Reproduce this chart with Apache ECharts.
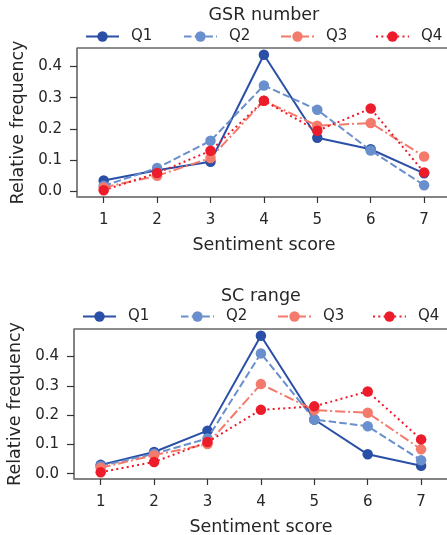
<!DOCTYPE html>
<html>
<head>
<meta charset="utf-8">
<script src="https://cdn.jsdelivr.net/npm/echarts@6/dist/echarts.min.js"></script>
<style>
html,body{margin:0;padding:0;background:#fff;}
#c{width:447px;height:535px;}
</style>
</head>
<body>
<div id="c"></div>
<script>
// ---- data ----
var scores = [1, 2, 3, 4, 5, 6, 7];
var quartiles = ['Q1', 'Q2', 'Q3', 'Q4'];
var yTicks = [0.0, 0.1, 0.2, 0.3, 0.4];
var titles = ['GSR number', 'SC range'];

var gsrQ1 = [0.035, 0.068, 0.095, 0.437, 0.172, 0.135, 0.058];
var gsrQ2 = [0.018, 0.075, 0.162, 0.339, 0.261, 0.131, 0.020];
var gsrQ3 = [0.013, 0.050, 0.107, 0.290, 0.210, 0.219, 0.112];
var gsrQ4 = [0.004, 0.059, 0.130, 0.290, 0.194, 0.265, 0.061];

var scQ1 = [0.030, 0.074, 0.147, 0.471, 0.185, 0.066, 0.027];
var scQ2 = [0.026, 0.068, 0.120, 0.411, 0.185, 0.162, 0.046];
var scQ3 = [0.020, 0.063, 0.101, 0.306, 0.217, 0.208, 0.083];
var scQ4 = [0.005, 0.040, 0.108, 0.218, 0.230, 0.281, 0.117];

// ---- styles ----
var colors = ['#2a4fa6', '#6a8fcd', '#f47a6c', '#ec1c2a'];
var dashes = ['solid', [7.5, 3.2], [10, 3, 2, 3], [2, 3.3]];
var TXT = '#262626';
var FONT = 'DejaVu Sans';

var panels = [
  {vals: [gsrQ1, gsrQ2, gsrQ3, gsrQ4], top: 48, height: 149, left: 77, title: titles[0], titleTop: 6, legendTop: 29, legendLefts: [85, 183, 280, 375]},
  {vals: [scQ1, scQ2, scQ3, scQ4], top: 329, height: 150, left: 74, title: titles[1], titleTop: 287, legendTop: 309, legendLefts: [82, 180, 277, 372]}
];
var unitW = 53.4;

var option = {
  animation: false,
  backgroundColor: '#fff',
  textStyle: {fontFamily: FONT, color: TXT},
  title: [], legend: [], grid: [], xAxis: [], yAxis: [], series: []
};

panels.forEach(function (p, pi) {
  var all = [].concat.apply([], p.vals);
  var lo = Math.min.apply(null, all), hi = Math.max.apply(null, all);
  var m = (hi - lo) * 0.05;
  option.grid.push({left: p.left, top: p.top, width: unitW * 7, height: p.height,
    outerBoundsMode: 'none', containLabel: false,
    show: true, borderColor: '#1a1a1a', borderWidth: 1, backgroundColor: 'transparent'});
  option.title.push({text: p.title, left: p.left + unitW * 3.5, top: p.titleTop, textAlign: 'center', padding: 0,
    textStyle: {fontFamily: FONT, fontSize: 17.5, fontWeight: 'normal', color: TXT}});
  option.xAxis.push({
    type: 'value', gridIndex: pi, min: 0.5, max: 7.5,
    name: 'Sentiment score', nameLocation: 'middle', nameGap: 39,
    nameTextStyle: {fontFamily: FONT, fontSize: 17.5, color: TXT},
    axisLine: {onZero: false, lineStyle: {color: '#808080', width: 1.5}},
    axisTick: {show: true, length: 6, customValues: scores, lineStyle: {color: '#333', width: 1.2}},
    axisLabel: {customValues: scores, margin: 16, fontFamily: FONT, fontSize: 15, color: TXT},
    splitLine: {show: false}
  });
  option.yAxis.push({
    type: 'value', gridIndex: pi, min: lo - m, max: hi + m,
    name: 'Relative frequency', nameLocation: 'middle', nameGap: 49, nameRotate: 90,
    nameTextStyle: {fontFamily: FONT, fontSize: 17.5, color: TXT},
    axisLine: {show: true, onZero: false, lineStyle: {color: '#808080', width: 1.5}},
    axisTick: {show: true, length: 7, customValues: yTicks, lineStyle: {color: '#333', width: 1.2}},
    axisLabel: {customValues: yTicks, margin: 15, fontFamily: FONT, fontSize: 15, color: TXT,
      formatter: function (v) { return v.toFixed(1); }},
    splitLine: {show: false}
  });
  quartiles.forEach(function (q, qi) {
    option.series.push({
      name: q, type: 'line', xAxisIndex: pi, yAxisIndex: pi,
      data: scores.map(function (s, i) { return [s, p.vals[qi][i]]; }),
      symbol: 'circle', symbolSize: 10.5, showSymbol: true,
      lineStyle: {color: colors[qi], width: 2, type: dashes[qi]},
      itemStyle: {color: colors[qi]},
      z: 2 + qi
    });
    option.legend.push({
      data: [q], left: p.legendLefts[qi], top: p.legendTop, padding: 0,
      itemWidth: 33, itemHeight: 13, selectedMode: false,
      textStyle: {fontFamily: FONT, fontSize: 15, color: TXT, padding: [0, 0, 0, 7]}
    });
  });
});

var chart = echarts.init(document.getElementById('c'), null, {renderer: 'canvas'});
chart.setOption(option);
</script>
</body>
</html>
